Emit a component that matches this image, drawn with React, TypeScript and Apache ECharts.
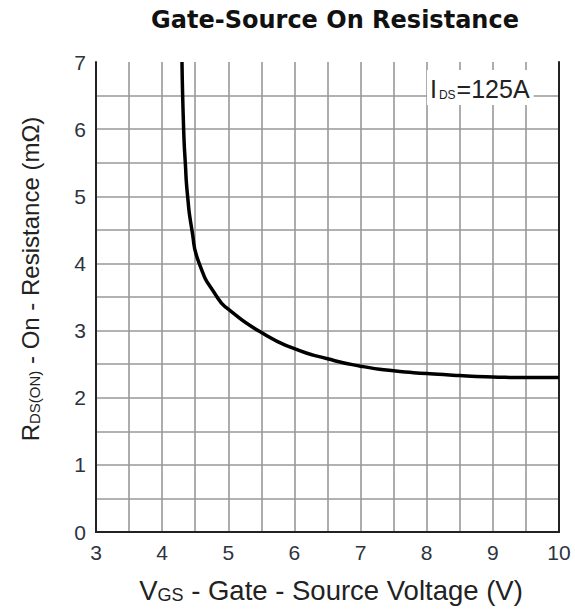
import { useEffect, useRef } from 'react';
import * as echarts from 'echarts';

const titleText = 'Gate-Source On Resistance';
// Gate-source voltage (V) and on-resistance (mΩ)
const vgs = [4.3, 4.325, 4.35, 4.385, 4.45, 4.56, 4.83, 5.0, 5.5, 6.0, 6.5, 7.0, 7.5, 8.0, 8.5, 9.0, 9.5, 10.0];
const rdsOn = [7.0, 6.0, 5.5, 5.0, 4.5, 4.0, 3.5, 3.32, 2.97, 2.73, 2.58, 2.47, 2.4, 2.36, 2.33, 2.31, 2.3, 2.3];
const xRange = [3, 10];
const yRange = [0, 7];
const conditionLabel = { main: 'I', sub: 'DS', rest: '=125A' };

export default function App() {
  const ref = useRef<HTMLDivElement>(null);
  useEffect(() => {
    if (!ref.current) return;
    const chart = echarts.init(ref.current, undefined, { renderer: 'svg' });
    const gridColor = '#999';
    const frameColor = '#222';
    const font = 'Liberation Sans, Arial, sans-serif';
    const labelStyle = { color: '#2e3340', fontSize: 21, fontFamily: font };
    const frameAxis = {
      show: true,
      axisLine: { show: true, lineStyle: { color: frameColor, width: 2 } },
      axisTick: { show: false },
      axisLabel: { show: false },
      splitLine: { show: false },
      z: 3,
    };
    chart.setOption({
      animation: false,
      backgroundColor: '#fff',
      title: {
        text: titleText,
        left: 330,
        top: 3,
        textAlign: 'center',
        textStyle: { fontFamily: 'DejaVu Sans, sans-serif', fontWeight: 'bold', fontSize: 24, color: '#111' },
      },
      grid: { left: 96, right: 16, top: 62, bottom: 73 },
      xAxis: [
        {
          type: 'value',
          min: xRange[0],
          max: xRange[1],
          interval: 1,
          position: 'bottom',
          axisLine: { show: true, lineStyle: { color: frameColor, width: 2 } },
          axisTick: { show: false },
          axisLabel: { ...labelStyle, margin: 10 },
          splitLine: { show: true, showMinLine: false, showMaxLine: false, lineStyle: { color: gridColor, width: 1.6 } },
          minorTick: { show: false, splitNumber: 2 },
          minorSplitLine: { show: true, lineStyle: { color: gridColor, width: 1.6 } },
          name: '{a|V}{b|GS}{a| - Gate - Source Voltage (V)}',
          nameLocation: 'middle',
          nameGap: 42,
          nameTextStyle: {
            padding: [0, 0, 0, 7],
            rich: {
              a: { fontSize: 27.5, color: '#222', fontFamily: font, verticalAlign: 'bottom', lineHeight: 30 },
              b: { fontSize: 18, color: '#222', fontFamily: font, verticalAlign: 'bottom', lineHeight: 26 },
            },
          },
        },
        { ...frameAxis, type: 'value', min: xRange[0], max: xRange[1], position: 'top' },
      ],
      yAxis: [
        {
          type: 'value',
          min: yRange[0],
          max: yRange[1],
          interval: 1,
          position: 'left',
          axisLine: { show: true, lineStyle: { color: frameColor, width: 2 } },
          axisTick: { show: false },
          axisLabel: { ...labelStyle, margin: 10 },
          splitLine: { show: true, showMinLine: false, showMaxLine: false, lineStyle: { color: gridColor, width: 1.6 } },
          minorTick: { show: false, splitNumber: 2 },
          minorSplitLine: { show: true, lineStyle: { color: gridColor, width: 1.6 } },
          name: '{a|R}{b|DS(ON)}{a| - On - Resistance (mΩ)}',
          nameLocation: 'middle',
          nameGap: 54,
          nameRotate: 90,
          nameTextStyle: {
            padding: [0, 0, 0, 36],
            rich: {
              a: { fontSize: 24, color: '#222', fontFamily: font, verticalAlign: 'bottom', lineHeight: 27 },
              b: { fontSize: 15, color: '#222', fontFamily: font, verticalAlign: 'bottom', lineHeight: 23 },
            },
          },
        },
        { ...frameAxis, type: 'value', min: yRange[0], max: yRange[1], position: 'right' },
      ],
      series: [
        {
          type: 'line',
          data: vgs.map((v, i) => [v, rdsOn[i]]),
          showSymbol: false,
          smooth: 0.6,
          lineStyle: { color: '#000', width: 3.5 },
          z: 4,
        },
      ],
      graphic: [
        {
          type: 'text',
          left: 427,
          top: 70,
          z: 100,
          style: {
            text: `{i|${conditionLabel.main}}{s|${conditionLabel.sub}}{v|${conditionLabel.rest}}`,
            backgroundColor: '#fff',
            padding: [4, 4, 4, 3],
            rich: {
              i: { fontSize: 25, fill: '#222', fontFamily: font, verticalAlign: 'bottom', lineHeight: 27, padding: [0, 2, 0, 0] },
              s: { fontSize: 12, fill: '#222', fontFamily: font, verticalAlign: 'bottom', lineHeight: 21, padding: [0, 1, 0, 0] },
              v: { fontSize: 25, fill: '#222', fontFamily: font, verticalAlign: 'bottom', lineHeight: 27 },
            },
          },
        },
      ],
    });
    return () => chart.dispose();
  }, []);
  return <div ref={ref} style={{ position: 'fixed', left: 0, top: 0, width: 575, height: 609, background: '#fff' }} />;
}
